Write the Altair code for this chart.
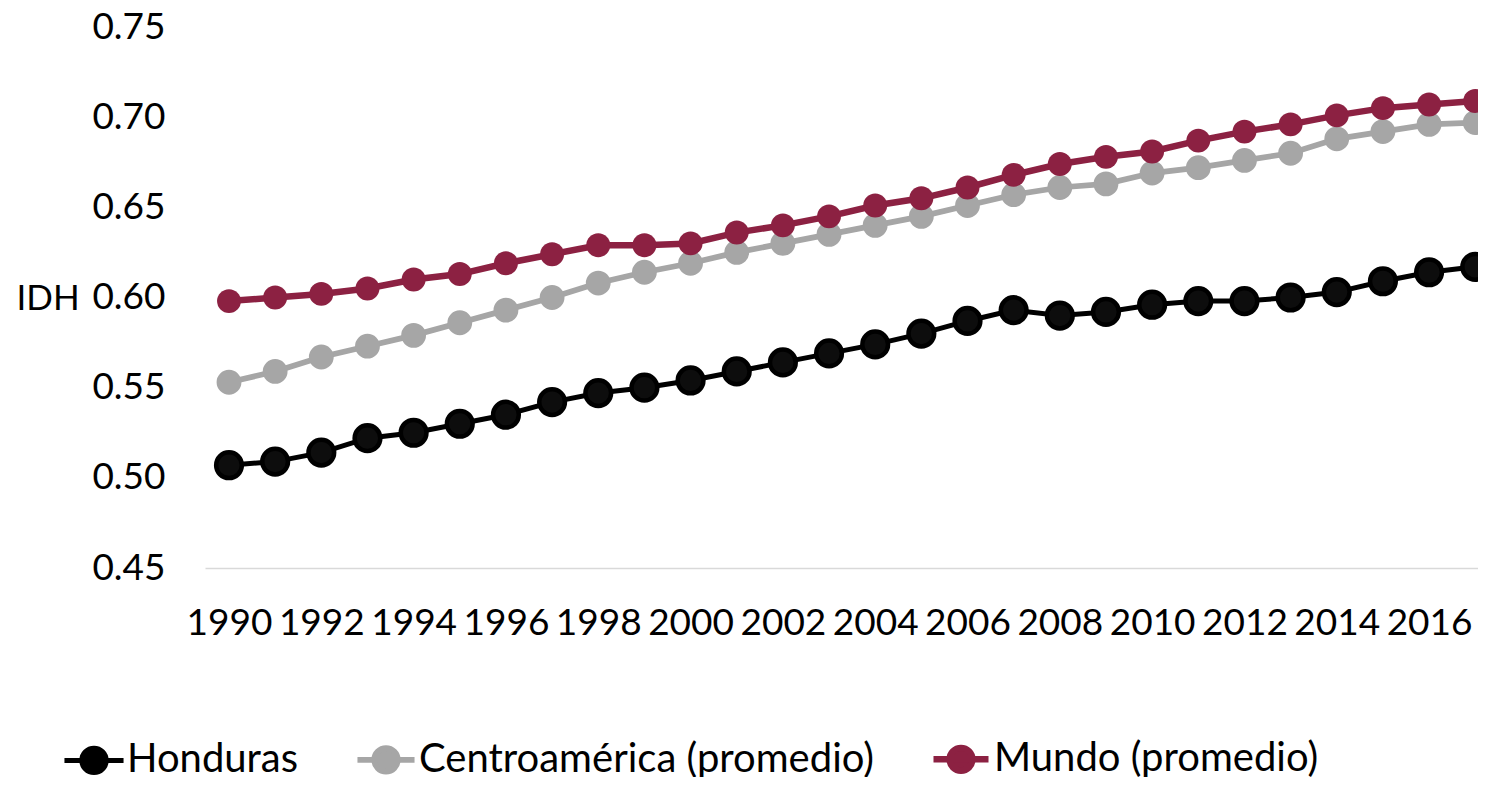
import altair as alt
import pandas as pd

years = list(range(1990, 2018))
series_names = ["Honduras", "Centroamérica (promedio)", "Mundo (promedio)"]

honduras = [0.507, 0.509, 0.514, 0.522, 0.525, 0.530, 0.535, 0.542, 0.547, 0.550,
            0.554, 0.559, 0.564, 0.569, 0.574, 0.580, 0.587, 0.593, 0.590, 0.592,
            0.596, 0.598, 0.598, 0.600, 0.603, 0.609, 0.614, 0.617]
centro = [0.553, 0.559, 0.567, 0.573, 0.579, 0.586, 0.593, 0.600, 0.608, 0.614,
          0.619, 0.625, 0.630, 0.635, 0.640, 0.645, 0.651, 0.657, 0.661, 0.663,
          0.669, 0.672, 0.676, 0.680, 0.688, 0.692, 0.696, 0.697]
mundo = [0.598, 0.600, 0.602, 0.605, 0.610, 0.613, 0.619, 0.624, 0.629, 0.629,
         0.630, 0.636, 0.640, 0.645, 0.651, 0.655, 0.661, 0.668, 0.674, 0.678,
         0.681, 0.687, 0.692, 0.696, 0.701, 0.705, 0.707, 0.709]

x_ticks = list(range(1990, 2017, 2))
y_ticks = [0.45, 0.50, 0.55, 0.60, 0.65, 0.70, 0.75]

colors = ["#000000", "#a6a6a6", "#8c2142"]
line_widths = [5, 6.5, 4]
point_sizes = [660, 572, 572]

rows = []
for name, vals in zip(series_names, [honduras, centro, mundo]):
    for yr, v in zip(years, vals):
        rows.append({"year": yr, "serie": name, "value": v})
df = pd.DataFrame(rows)

FONT = "Lato"

x_enc = alt.X("year:Q",
              scale=alt.Scale(domain=[1989.48, 2017.06], nice=False, zero=False),
              axis=alt.Axis(values=x_ticks, format="d", title=None, grid=False,
                            ticks=False, domain=True, domainColor="#d9d9d9",
                            domainWidth=1.5, labelFontSize=37, labelFont=FONT,
                            labelColor="#000000", labelPadding=37, labelFlush=False,
                            labelOverlap=False))
y_enc = alt.Y("value:Q",
              scale=alt.Scale(domain=[0.45, 0.75], nice=False, zero=False),
              axis=alt.Axis(values=y_ticks, format=".2f", title="IDH", grid=False,
                            ticks=False, domain=False, labelFontSize=37,
                            labelFont=FONT, labelColor="#000000", labelPadding=40,
                            titleAngle=0, titleFont=FONT, titleFontSize=35,
                            titleFontWeight="normal", titleColor="#000000",
                            titleAlign="left", titleBaseline="middle",
                            titleX=-189, titleY=271))

color_enc = alt.Color("serie:N",
                      scale=alt.Scale(domain=series_names, range=colors),
                      sort=series_names,
                      legend=alt.Legend(title=None, orient="none", direction="horizontal",
                                        legendX=-131, legendY=712, columns=3,
                                        columnPadding=46, labelFont=FONT,
                                        labelFontSize=40, labelColor="#000000",
                                        labelOffset=13, labelLimit=0,
                                        symbolType="M-2.3,0L2.3,0M-0.95,0A0.95,0.95,0,1,1,0.95,0A0.95,0.95,0,1,1,-0.95,0Z",
                                        symbolStrokeWidth=5,
                                        symbolOpacity=1))

lines = alt.Chart(df).mark_line().encode(
    x=x_enc, y=y_enc, color=color_enc,
    strokeWidth=alt.StrokeWidth("serie:N",
                                scale=alt.Scale(domain=series_names, range=line_widths),
                                legend=None),
    order=alt.Order("year:Q"),
)

points = alt.Chart(df).mark_point(filled=True, opacity=1).encode(
    x=x_enc, y=y_enc, color=color_enc,
    size=alt.Size("serie:N",
                  scale=alt.Scale(domain=series_names, range=point_sizes),
                  legend=None),
)

hond_points = alt.Chart(df).transform_filter(
    alt.datum.serie == "Honduras"
).mark_point(filled=True, opacity=1, fill="#0d0d0d", stroke="#000000",
             strokeWidth=4.5, size=660).encode(x=x_enc, y=y_enc)

chart = alt.layer(lines, points, hond_points).properties(
    width=1273, height=541,
    autosize=alt.AutoSizeParams(type="none"),
    padding={"left": 197, "top": 19, "right": 0, "bottom": 209},
).configure(font=FONT).configure_view(stroke=None)

chart.save("out.html", embed_options={"renderer": "svg", "actions": False})
